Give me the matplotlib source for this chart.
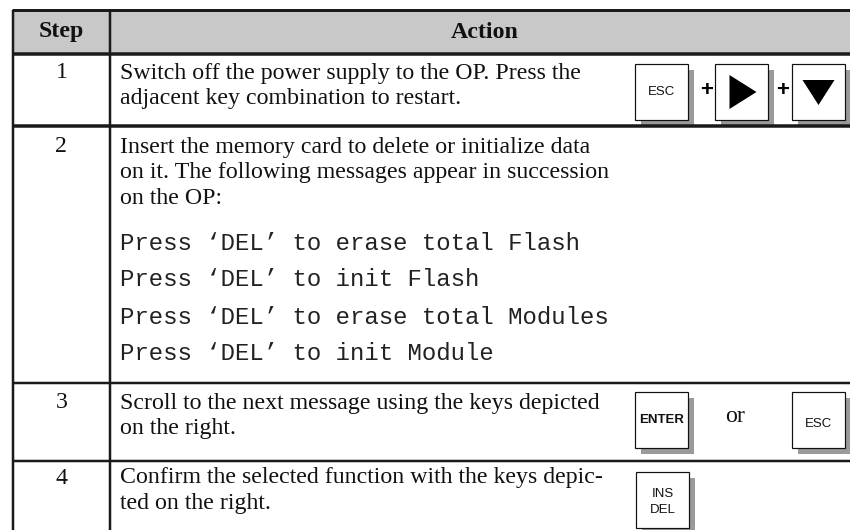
import matplotlib.pyplot as plt
from matplotlib.patches import Rectangle, Polygon

# table content
headers = ['Step', 'Action']
steps = ['1', '2', '3', '4']
step1_text = ['Switch off the power supply to the OP. Press the',
              'adjacent key combination to restart.']
step2_text = ['Insert the memory card to delete or initialize data',
              'on it. The following messages appear in succession',
              'on the OP:']
step2_messages = ["Press \u2018DEL\u2019 to erase total Flash",
                  "Press \u2018DEL\u2019 to init Flash",
                  "Press \u2018DEL\u2019 to erase total Modules",
                  "Press \u2018DEL\u2019 to init Module"]
step3_text = ['Scroll to the next message using the keys depicted',
              'on the right.']
step4_text = ['Confirm the selected function with the keys depic-',
              'ted on the right.']
step1_keys = ['ESC', 'right', 'down']
step3_keys = ['ENTER', 'ESC']
step4_keys = ['INS\nDEL']

SERIF = 'Liberation Serif'
MONO = 'Liberation Mono'
SANS = 'Liberation Sans'
PX = 0.72  # one pixel in points at dpi 100
BODY = 17.2
TXT = '#111111'

fig = plt.figure(figsize=(8.5, 5.3), dpi=100)
ax = fig.add_axes([0, 0, 1, 1])
ax.set_xlim(0, 850)
ax.set_ylim(530, 0)
ax.axis('off')

x_left, x_mid, x_right = 13, 110, 852
y_top, y_head = 10, 54
row_bottoms = [126, 383, 461]

# header band
ax.add_patch(Rectangle((x_left, y_top), x_right - x_left, y_head - y_top,
                       facecolor='#c8c8c8', edgecolor='none'))
ax.text((x_left + x_mid) / 2, 32, headers[0], family=SERIF, weight='bold',
        fontsize=BODY, ha='center', va='center', color=TXT)
ax.text(485, 32, headers[1], family=SERIF, weight='bold',
        fontsize=BODY, ha='center', va='center', color=TXT)

# rules
line_c = '#1a1a1a'
ax.plot([x_left - 1, x_right], [y_top, y_top], color=line_c, lw=3 * PX, solid_capstyle='butt')
ax.plot([x_left - 1, x_right], [y_head, y_head], color=line_c, lw=3.5 * PX, solid_capstyle='butt')
ax.plot([x_left - 1, x_right], [row_bottoms[0], row_bottoms[0]], color=line_c, lw=3.5 * PX, solid_capstyle='butt')
for yb in row_bottoms[1:]:
    ax.plot([x_left - 1, x_right], [yb, yb], color=line_c, lw=2.5 * PX, solid_capstyle='butt')
for xv in (x_left, x_mid):
    ax.plot([xv, xv], [y_top, 531], color=line_c, lw=2.5 * PX, solid_capstyle='butt')

# step numbers
step_y = [73, 147, 403, 478]
for s, y in zip(steps, step_y):
    ax.text((x_left + x_mid) / 2, y, s, family=SERIF, fontsize=BODY,
            ha='center', va='center', color=TXT)


def lines(texts, y0, dy=25.5, family=SERIF, size=BODY, color=TXT):
    for i, t in enumerate(texts):
        ax.text(120, y0 + i * dy, t, family=family, fontsize=size,
                ha='left', va='center', color=color)


lines(step1_text, 73)
lines(step2_text, 147)
lines(step2_messages, 243, dy=37, family=MONO, size=17.3, color='#222222')
lines(step3_text, 403)
lines(step4_text, 478)


def key(x, y, w=53, h=56, label=None, bold=False, size=9.5, symbol=None, label_y=None):
    ax.add_patch(Rectangle((x + 6, y + 6), w, h, facecolor='#9a9a9a', edgecolor='none'))
    ax.add_patch(Rectangle((x, y), w, h, facecolor='white', edgecolor='#111111', lw=1.2 * PX))
    cx, cy = x + w / 2, y + h / 2
    if label:
        ax.text(cx, label_y if label_y else cy, label, family=SANS, fontsize=size,
                weight='bold' if bold else 'normal', ha='center', va='center',
                linespacing=1.35, color=TXT)
    if symbol == 'right':
        ax.add_patch(Polygon([(cx - 12, cy - 17), (cx - 12, cy + 17), (cx + 15, cy)],
                             closed=True, facecolor='black', edgecolor='none'))
    elif symbol == 'down':
        ax.add_patch(Polygon([(cx - 16, cy - 12), (cx + 16, cy - 12), (cx, cy + 13)],
                             closed=True, facecolor='black', edgecolor='none'))


# step 1 keys
key(635, 64, label=step1_keys[0])
ax.text(707, 91, '+', family=SANS, fontsize=16, weight='bold', ha='center', va='center')
key(715, 64, symbol=step1_keys[1])
ax.text(783, 91, '+', family=SANS, fontsize=16, weight='bold', ha='center', va='center')
key(792, 64, symbol=step1_keys[2])

# step 3 keys
key(635, 392, label=step3_keys[0], bold=True, size=9.5, label_y=420)
ax.text(735, 416, 'or', family=SERIF, fontsize=BODY, ha='center', va='center', color=TXT)
key(792, 392, label=step3_keys[1], label_y=424)

# step 4 key
key(636, 472, label=step4_keys[0], label_y=502)

fig.savefig('out.png', dpi=100)
